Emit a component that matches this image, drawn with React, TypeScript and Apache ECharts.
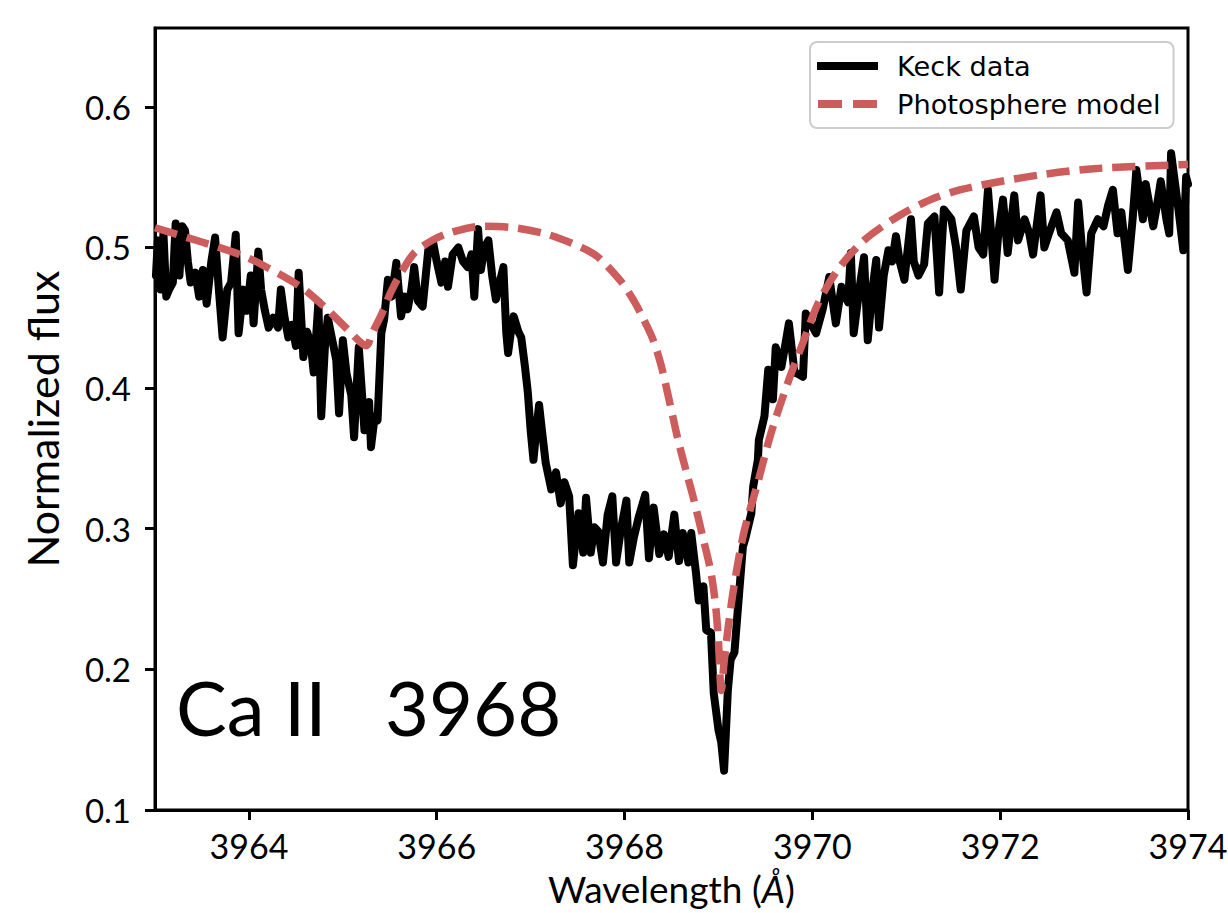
import React, { useEffect, useRef } from "react";
import * as echarts from "echarts";

const keckWave = [
  3963.01, 3963.03, 3963.06, 3963.09, 3963.12, 3963.15, 3963.19, 3963.22, 3963.26, 3963.29,
  3963.32, 3963.35, 3963.38, 3963.43, 3963.47, 3963.51, 3963.55, 3963.60, 3963.64, 3963.68,
  3963.72, 3963.77, 3963.81, 3963.86, 3963.89, 3963.94, 3963.98, 3964.02, 3964.05, 3964.10,
  3964.13, 3964.17, 3964.21, 3964.26, 3964.31, 3964.34, 3964.38, 3964.42, 3964.46, 3964.50,
  3964.53, 3964.58, 3964.62, 3964.66, 3964.69, 3964.74, 3964.77, 3964.81, 3964.84, 3964.90,
  3964.93, 3964.96, 3965.00, 3965.04, 3965.09, 3965.12, 3965.17, 3965.20, 3965.23, 3965.26,
  3965.28, 3965.30, 3965.34, 3965.37, 3965.41, 3965.44, 3965.48, 3965.52, 3965.57, 3965.62,
  3965.66, 3965.69, 3965.73, 3965.76, 3965.80, 3965.85, 3965.91, 3965.96, 3966.00, 3966.05,
  3966.09, 3966.12, 3966.17, 3966.23, 3966.28, 3966.33, 3966.37, 3966.40, 3966.44, 3966.47,
  3966.51, 3966.55, 3966.59, 3966.63, 3966.67, 3966.71, 3966.74, 3966.76, 3966.79, 3966.82,
  3966.87, 3966.90, 3966.94, 3966.97, 3967.00, 3967.03, 3967.06, 3967.09, 3967.12, 3967.16,
  3967.22, 3967.27, 3967.32, 3967.36, 3967.41, 3967.45, 3967.51, 3967.56, 3967.59, 3967.64,
  3967.68, 3967.72, 3967.77, 3967.82, 3967.87, 3967.91, 3967.96, 3968.02, 3968.05, 3968.10,
  3968.15, 3968.22, 3968.26, 3968.31, 3968.37, 3968.42, 3968.47, 3968.53, 3968.58, 3968.62,
  3968.68, 3968.71, 3968.76, 3968.79, 3968.84, 3968.87, 3968.92, 3968.95, 3969.00, 3969.03,
  3969.06, 3969.10, 3969.13, 3969.17, 3969.22, 3969.26, 3969.29, 3969.35, 3969.37, 3969.42,
  3969.43, 3969.49, 3969.53, 3969.58, 3969.61, 3969.67, 3969.72, 3969.75, 3969.81, 3969.85,
  3969.90, 3969.93, 3969.99, 3970.04, 3970.11, 3970.18, 3970.22, 3970.25, 3970.31, 3970.38,
  3970.41, 3970.44, 3970.50, 3970.55, 3970.59, 3970.64, 3970.68, 3970.71, 3970.76, 3970.81,
  3970.85, 3970.89, 3970.93, 3970.98, 3971.05, 3971.08, 3971.13, 3971.19, 3971.23, 3971.30,
  3971.35, 3971.40, 3971.48, 3971.53, 3971.58, 3971.64, 3971.72, 3971.77, 3971.82, 3971.87,
  3971.94, 3971.98, 3972.03, 3972.08, 3972.15, 3972.19, 3972.26, 3972.31, 3972.35, 3972.43,
  3972.47, 3972.52, 3972.60, 3972.65, 3972.72, 3972.79, 3972.83, 3972.87, 3972.92, 3972.97,
  3973.04, 3973.10, 3973.15, 3973.20, 3973.25, 3973.29, 3973.36, 3973.41, 3973.45, 3973.52,
  3973.55, 3973.63, 3973.67, 3973.71, 3973.77, 3973.80, 3973.82, 3973.90, 3973.95, 3973.98,
  3974.00,
];

const keckFlux = [
  0.48, 0.505, 0.47, 0.51, 0.465, 0.47, 0.475, 0.517, 0.48, 0.515,
  0.512, 0.49, 0.475, 0.482, 0.465, 0.484, 0.46, 0.49, 0.507, 0.47,
  0.436, 0.47, 0.475, 0.509, 0.439, 0.47, 0.455, 0.48, 0.446, 0.497,
  0.47, 0.455, 0.443, 0.45, 0.443, 0.47, 0.45, 0.436, 0.445, 0.43,
  0.482, 0.422, 0.44, 0.43, 0.411, 0.461, 0.38, 0.43, 0.45, 0.43,
  0.42, 0.382, 0.434, 0.41, 0.395, 0.365, 0.429, 0.40, 0.37, 0.385,
  0.39, 0.358, 0.38, 0.377, 0.439, 0.449, 0.477, 0.465, 0.489, 0.451,
  0.465, 0.456, 0.47, 0.486, 0.462, 0.458, 0.498, 0.504, 0.49, 0.475,
  0.49, 0.472, 0.495, 0.5, 0.49, 0.486, 0.495, 0.465, 0.513, 0.484,
  0.5, 0.505, 0.48, 0.463, 0.475, 0.486, 0.44, 0.425, 0.44, 0.451,
  0.44, 0.436, 0.415, 0.397, 0.37, 0.349, 0.37, 0.388, 0.37, 0.347,
  0.328, 0.34, 0.318, 0.333, 0.323, 0.274, 0.311, 0.283, 0.322, 0.283,
  0.301, 0.298, 0.276, 0.31, 0.323, 0.276, 0.299, 0.32, 0.276, 0.294,
  0.308, 0.324, 0.279, 0.315, 0.282, 0.296, 0.28, 0.31, 0.277, 0.297,
  0.276, 0.297, 0.269, 0.249, 0.259, 0.228, 0.226, 0.183, 0.157, 0.148,
  0.128, 0.185, 0.207, 0.212, 0.254, 0.287, 0.294, 0.311, 0.33, 0.349,
  0.363, 0.38, 0.413, 0.392, 0.429, 0.415, 0.434, 0.446, 0.411, 0.41,
  0.408, 0.453, 0.445, 0.439, 0.456, 0.479, 0.46, 0.446, 0.472, 0.461,
  0.496, 0.439, 0.47, 0.493, 0.434, 0.47, 0.491, 0.443, 0.48, 0.498,
  0.49, 0.508, 0.49, 0.477, 0.52, 0.49, 0.48, 0.488, 0.517, 0.522,
  0.468, 0.527, 0.52, 0.5, 0.47, 0.512, 0.522, 0.5, 0.495, 0.541,
  0.477, 0.51, 0.534, 0.496, 0.537, 0.505, 0.52, 0.51, 0.495, 0.537,
  0.5, 0.51, 0.525, 0.51, 0.505, 0.482, 0.532, 0.5, 0.468, 0.51,
  0.52, 0.515, 0.53, 0.541, 0.51, 0.525, 0.484, 0.52, 0.555, 0.52,
  0.545, 0.515, 0.53, 0.547, 0.52, 0.51, 0.567, 0.526, 0.498, 0.55,
  0.545,
];

const modelWave = [
  3963.00, 3963.49, 3963.90, 3964.13, 3964.55, 3964.80, 3965.00, 3965.09, 3965.18, 3965.25,
  3965.32, 3965.41, 3965.51, 3965.62, 3965.76, 3965.95, 3966.12, 3966.47, 3966.82, 3967.19,
  3967.54, 3967.72, 3967.96, 3968.10, 3968.18, 3968.30, 3968.39, 3968.48, 3968.57, 3968.66,
  3968.74, 3968.83, 3968.92, 3968.97, 3969.00, 3969.03, 3969.06, 3969.10, 3969.17, 3969.27,
  3969.42, 3969.56, 3969.74, 3969.91, 3970.06, 3970.27, 3970.55, 3970.91, 3971.26, 3971.58,
  3971.93, 3972.47, 3973.00, 3974.00,
];

const modelFlux = [
  0.514, 0.504, 0.495, 0.488, 0.472, 0.458, 0.445, 0.439, 0.433, 0.43,
  0.44, 0.452, 0.468, 0.482, 0.496, 0.505, 0.51, 0.515, 0.514, 0.509,
  0.5, 0.493, 0.476, 0.462, 0.452, 0.435, 0.416, 0.39, 0.363, 0.34,
  0.32, 0.295, 0.269, 0.245, 0.22, 0.185, 0.205, 0.228, 0.261, 0.297,
  0.333, 0.368, 0.404, 0.434, 0.46, 0.484, 0.505, 0.522, 0.534, 0.541,
  0.546, 0.552, 0.556, 0.559,
];

const xTicks = [3964, 3966, 3968, 3970, 3972, 3974];
const seriesNames = ["Keck data", "Photosphere model"];
const annotation = "Ca II   3968";

export default function App() {
  const ref = useRef<HTMLDivElement>(null);
  useEffect(() => {
    if (!ref.current) return;
    const chart = echarts.init(ref.current, null, { renderer: "svg" });
    const keckData = keckWave.map((w, i) => [w, keckFlux[i]]);
    const modelData = modelWave.map((w, i) => [w, modelFlux[i]]);
    chart.setOption({
      animation: false,
      backgroundColor: "#ffffff",
      grid: {
        left: 155,
        right: 40,
        top: 28,
        bottom: 103,
        show: true,
        borderColor: "#000",
        borderWidth: 3,
        containLabel: false,
        outerBoundsMode: "none",
      },
      xAxis: {
        type: "value",
        min: 3963,
        max: 3974,
        name: "Wavelength ({i|Å})",
        nameLocation: "middle",
        nameGap: 60,
        nameTextStyle: {
          fontFamily: "Lato",
          fontSize: 37,
          color: "#000",
          rich: { i: { fontFamily: "Lato", fontSize: 37, fontStyle: "italic", color: "#000" } },
        },
        splitLine: { show: false },
        axisLine: { show: true, onZero: false, lineStyle: { color: "#000", width: 3 } },
        axisTick: { show: true, length: 10, lineStyle: { color: "#000", width: 3 }, customValues: xTicks },
        axisLabel: {
          customValues: xTicks,
          fontFamily: "Lato",
          fontSize: 34,
          color: "#000",
          margin: 18,
          formatter: (v: number) => String(v),
        },
      },
      yAxis: {
        type: "value",
        min: 0.1,
        max: 0.656,
        interval: 0.1,
        name: "Normalized flux",
        nameLocation: "middle",
        nameGap: 91,
        nameTextStyle: { fontFamily: "Lato", fontSize: 43, color: "#000" },
        splitLine: { show: false },
        axisLine: { show: true, onZero: false, lineStyle: { color: "#000", width: 3 } },
        axisTick: { show: true, length: 10, lineStyle: { color: "#000", width: 3 } },
        axisLabel: {
          fontFamily: "Lato",
          fontSize: 33,
          color: "#000",
          margin: 24,
          showMaxLabel: false,
          formatter: (v: number) => v.toFixed(1),
        },
      },
      legend: {
        data: [
          { name: seriesNames[0], icon: "path://M0 0H61V8H0Z" },
          { name: seriesNames[1], icon: "path://M0 0H24V8H0Z M35 0H59V8H35Z" },
        ],
        orient: "vertical",
        left: 810,
        top: 42,
        padding: [9, 13, 9, 7],
        itemWidth: 61,
        itemHeight: 8,
        itemGap: 8,
        backgroundColor: "#fff",
        borderColor: "#cccccc",
        borderWidth: 2,
        borderRadius: 7,
        textStyle: {
          fontFamily: "DejaVu Sans",
          fontSize: 27.2,
          color: "#000",
          lineHeight: 30,
          padding: [0, 0, 0, 14],
        },
      },
      graphic: [
        {
          type: "text",
          left: 176,
          top: 668,
          z: 10,
          style: {
            text: annotation,
            fontFamily: "Lato",
            fontSize: 76,
            fill: "#000",
          },
        },
      ],
      series: [
        {
          name: seriesNames[0],
          type: "line",
          data: keckData,
          symbol: "none",
          lineStyle: { color: "#000", width: 8, join: "round", cap: "round" },
          itemStyle: { color: "#000" },
          z: 2,
        },
        {
          name: seriesNames[1],
          type: "line",
          data: modelData,
          symbol: "none",
          smooth: 0.3,
          lineStyle: { color: "#cd5c5c", width: 7.5, type: [23, 10] },
          itemStyle: { color: "#cd5c5c" },
          z: 3,
        },
      ],
    });
    return () => chart.dispose();
  }, []);
  return (
    <div
      ref={ref}
      style={{ position: "fixed", left: 0, top: 0, width: 1228, height: 913, background: "#fff" }}
    />
  );
}
